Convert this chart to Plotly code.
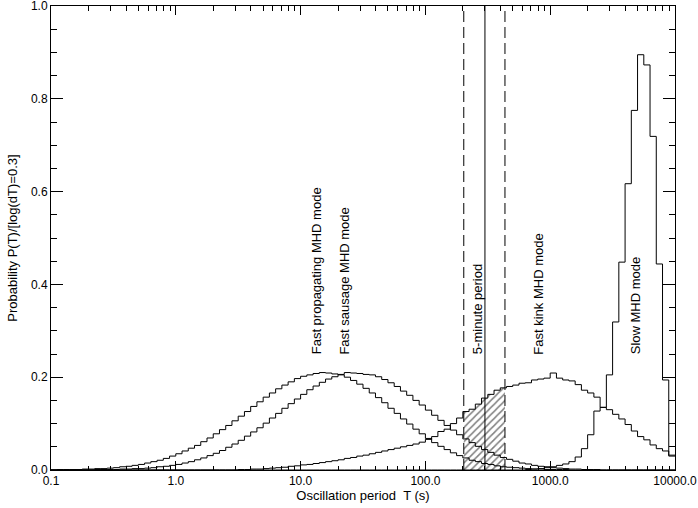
import numpy as np
import plotly.graph_objects as go

# ---- data -------------------------------------------------------------
# histogram bins: log10(T) from -1.0 to 4.0 in steps of 0.05 (100 bins)
log_edges = np.round(np.arange(-1.0, 4.0001, 0.05), 3)

fast_propagating = [
    0.000, 0.001, 0.001, 0.001, 0.001, 0.002, 0.002, 0.003, 0.003, 0.004,
    0.005, 0.007, 0.008, 0.010, 0.012, 0.015, 0.018, 0.021, 0.025, 0.030,
    0.035, 0.041, 0.047, 0.053, 0.061, 0.069, 0.078, 0.087, 0.096, 0.106,
    0.116, 0.126, 0.137, 0.147, 0.157, 0.166, 0.175, 0.183, 0.190, 0.197,
    0.202, 0.205, 0.208, 0.210, 0.209, 0.207, 0.205, 0.200, 0.193, 0.185,
    0.176, 0.166, 0.156, 0.145, 0.133, 0.122, 0.110, 0.099, 0.088, 0.078,
    0.068, 0.059, 0.051, 0.044, 0.037, 0.031, 0.026, 0.021, 0.018, 0.014,
    0.012, 0.009, 0.007, 0.006, 0.005, 0.004, 0.003, 0.002, 0.002, 0.001,
    0.001, 0.001, 0.001, 0.000, 0.000, 0.000, 0.000, 0.000, 0.000, 0.000,
    0.000, 0.000, 0.000, 0.000, 0.000, 0.000, 0.000, 0.000, 0.000, 0.000,
]

fast_sausage = [
    0.000, 0.000, 0.000, 0.000, 0.000, 0.000, 0.000, 0.001, 0.001, 0.001,
    0.001, 0.002, 0.002, 0.003, 0.003, 0.004, 0.005, 0.007, 0.008, 0.010,
    0.012, 0.015, 0.018, 0.022, 0.026, 0.031, 0.036, 0.042, 0.049, 0.056,
    0.064, 0.073, 0.082, 0.091, 0.101, 0.112, 0.122, 0.133, 0.143, 0.153,
    0.163, 0.173, 0.181, 0.189, 0.196, 0.201, 0.206, 0.210, 0.209, 0.208,
    0.206, 0.205, 0.201, 0.195, 0.188, 0.180, 0.170, 0.161, 0.150, 0.140,
    0.129, 0.118, 0.107, 0.096, 0.086, 0.076, 0.067, 0.059, 0.051, 0.044,
    0.038, 0.032, 0.027, 0.023, 0.019, 0.015, 0.013, 0.010, 0.008, 0.007,
    0.005, 0.004, 0.003, 0.002, 0.002, 0.001, 0.001, 0.001, 0.000, 0.000,
    0.000, 0.000, 0.000, 0.000, 0.000, 0.000, 0.000, 0.000, 0.000, 0.000,
]

fast_kink = [
    0.000, 0.000, 0.000, 0.000, 0.000, 0.000, 0.000, 0.000, 0.000, 0.000,
    0.000, 0.000, 0.000, 0.000, 0.000, 0.000, 0.000, 0.000, 0.000, 0.000,
    0.000, 0.000, 0.000, 0.000, 0.000, 0.000, 0.000, 0.000, 0.000, 0.000,
    0.001, 0.001, 0.002, 0.002, 0.003, 0.004, 0.005, 0.006, 0.008, 0.009,
    0.011, 0.012, 0.014, 0.016, 0.018, 0.020, 0.022, 0.025, 0.027, 0.030,
    0.032, 0.035, 0.038, 0.041, 0.044, 0.047, 0.050, 0.053, 0.056, 0.060,
    0.066, 0.072, 0.083, 0.088, 0.100, 0.112, 0.126, 0.131, 0.142, 0.155,
    0.163, 0.172, 0.177, 0.180, 0.183, 0.187, 0.188, 0.194, 0.196, 0.198,
    0.209, 0.198, 0.194, 0.192, 0.184, 0.172, 0.166, 0.157, 0.135, 0.130,
    0.120, 0.110, 0.098, 0.084, 0.072, 0.065, 0.054, 0.046, 0.041, 0.032,
]

slow = [0.000] * 76 + [
    0.001, 0.002, 0.003, 0.005, 0.007, 0.010, 0.013, 0.018, 0.028, 0.046,
    0.076, 0.127, 0.135, 0.205, 0.319, 0.448, 0.617, 0.775, 0.895, 0.873,
    0.719, 0.444, 0.194, 0.030,
]

five_min_period = 300.0
five_min_band = [203.0, 434.0]

labels = ["Fast propagating MHD mode", "Fast sausage MHD mode", "5-minute period",
          "Fast kink MHD mode", "Slow MHD mode"]
label_T = [13.4, 22.6, 263.0, 811.0, 4775.0]
label_y = 0.245

x_tickvals = [0.1, 1, 10, 100, 1000, 10000]
x_ticktext = ["0.1", "1.0", "10.0", "100.0", "1000.0", "10000.0"]
y_tickvals = [0.0, 0.2, 0.4, 0.6, 0.8, 1.0]

# ---- figure -----------------------------------------------------------
T_edges = 10.0 ** log_edges
FONT = "Liberation Sans, Arial, Helvetica, sans-serif"

fig = go.Figure()

# hatched area under the kink histogram inside the 5-minute band
kv = np.array(fast_kink)
lo, hi = five_min_band
inner = T_edges[(T_edges > lo) & (T_edges < hi)]
hx = np.concatenate([[lo], inner, [hi]])
idx = np.clip(np.searchsorted(T_edges, hx, side="right") - 1, 0, len(kv) - 1)
hy = kv[idx]
hy[-1] = hy[-2]
fig.add_trace(go.Scatter(
    x=hx, y=hy, mode="lines", line=dict(width=0, shape="hv"),
    fill="tozeroy", fillcolor="rgba(0,0,0,0)",
    fillpattern=dict(shape="/", fgcolor="black", bgcolor="rgba(255,255,255,0)",
                     size=5, solidity=0.3),
    hoverinfo="skip", showlegend=False))

for series in [fast_propagating, fast_sausage, fast_kink, slow]:
    v = np.array(series)
    fig.add_trace(go.Scatter(
        x=np.append(T_edges[:-1], T_edges[-1]), y=np.append(v, v[-1]),
        mode="lines", line=dict(color="black", width=1, shape="hv"),
        showlegend=False))

for xv, dash in [(five_min_band[0], "11px,5px"), (five_min_period, "solid"),
                 (five_min_band[1], "11px,5px")]:
    fig.add_trace(go.Scatter(x=[xv, xv], y=[0, 1], mode="lines",
                             line=dict(color="black", width=1, dash=dash),
                             showlegend=False))

for txt, tx in zip(labels, label_T):
    fig.add_annotation(x=np.log10(tx), y=label_y, xref="x", yref="y", text=txt,
                       textangle=-90, showarrow=False, xanchor="center",
                       yanchor="bottom", font=dict(size=13, color="black", family=FONT))

minor_x = [m * 10.0 ** d for d in range(-1, 4) for m in range(2, 10)]

fig.update_xaxes(
    type="log", range=[-1, 4], tickvals=x_tickvals, ticktext=x_ticktext,
    ticks="inside", ticklen=9, tickwidth=1, tickcolor="black",
    minor=dict(tickvals=minor_x, ticks="inside", ticklen=4.5, tickcolor="black", tickwidth=1),
    showline=True, linecolor="black", linewidth=1, mirror="allticks",
    showgrid=False, zeroline=False, automargin=False, ticklabeloverflow="allow",
    tickfont=dict(size=12, color="black", family=FONT),
    title=dict(text="Oscillation period \u00a0T (s)", standoff=1,
               font=dict(size=13, color="black", family=FONT)),
)
fig.update_yaxes(
    range=[0, 1], tickvals=y_tickvals, ticktext=[f"{v:.1f}" for v in y_tickvals],
    ticks="inside", ticklen=12, tickwidth=1, tickcolor="black",
    minor=dict(dtick=0.05, ticks="inside", ticklen=6, tickcolor="black", tickwidth=1),
    showline=True, linecolor="black", linewidth=1, mirror="allticks",
    showgrid=False, zeroline=False, automargin=False, ticklabeloverflow="allow",
    tickfont=dict(size=12, color="black", family=FONT),
    title=dict(text="Probability P(T)/[log(dT)=0.3]", standoff=10,
               font=dict(size=13, color="black", family=FONT)),
)
fig.update_layout(
    width=698, height=508, margin=dict(l=51, r=23, t=6, b=38),
    paper_bgcolor="white", plot_bgcolor="white", showlegend=False,
    font=dict(family=FONT, color="black"),
)

fig.write_html("out.html", config={"displayModeBar": False},
               post_script="document.body.style.margin='0px';"
                           "document.body.style.overflow='hidden';")
